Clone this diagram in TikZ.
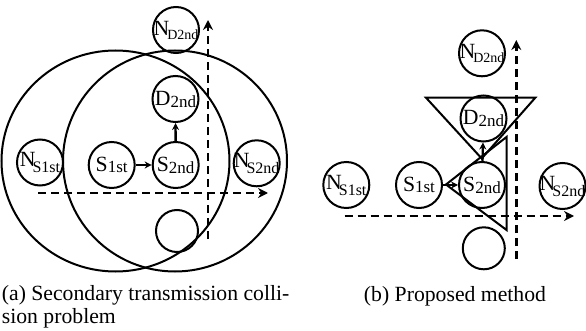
\documentclass[tikz,border=0pt]{standalone}
\usepackage{fontspec}
\setmainfont{Liberation Serif}
\usetikzlibrary{arrows.meta}
\newcommand\lowsub[4][3pt]{#2\kern#3\raisebox{-#1}{\fontsize{17}{17}\selectfont #4}}
\newcommand\lowsubsm[4][3pt]{#2\kern#3\raisebox{-#1}{\fontsize{14}{14}\selectfont #4}}
\newcommand\lowsubmd[4][3pt]{#2\kern#3\raisebox{-#1}{\fontsize{16}{16}\selectfont #4}}
\begin{document}
\begin{tikzpicture}[x=1pt,y=-1pt,font=\fontsize{21.7}{22.6}\selectfont,
  nd/.style={circle,draw,line width=2pt,inner sep=-14pt,minimum size=46pt},
  flowarrow/.style={line width=2.3pt,-{Stealth[length=7pt,width=7pt]}},
  axisarrow/.style={line width=2.5pt,dash pattern=on 8pt off 5pt,-{Stealth[length=10pt,width=10pt]}},
  rangeline/.style={line width=2pt},
  captext/.style={inner sep=0pt}]
\useasboundingbox (0,0) rectangle (586,331);
% ---------- (a) ----------
\draw[rangeline] (115.5,161) ellipse [x radius=114pt,y radius=110.5pt];
\draw[rangeline] (175,161) ellipse [x radius=112pt,y radius=110.5pt];
\node[nd] (aND) at (176,30) {\lowsubsm[4pt]{N}{-2pt}{D2nd}};
\node[nd] (aD) at (175.5,99) {\lowsub[2pt]{D}{0pt}{2nd}};
\node[nd] (aS1) at (111.7,165) {\lowsub[1.5pt]{S}{0pt}{1st}};
\node[nd] (aS2) at (175.7,165) {\lowsub[2pt]{S}{0pt}{2nd}};
\node[nd] (aNS1) at (40,162.5) {\lowsubmd[6pt]{N}{-3pt}{S1st}};
\node[nd] (aNS2) at (256.7,163.3) {\lowsubmd[6pt]{N}{-3pt}{S2nd}};
\node[nd,minimum size=42pt] (aE) at (177,231) {};
\draw[flowarrow] (aS1) -- (aS2);
\draw[flowarrow] (aS2) -- (aD);
\coordinate (aH0) at (38,193);
\coordinate (aH1) at (268,193);
\coordinate (aV0) at (208,239);
\coordinate (aV1) at (208,20);
\draw[axisarrow] (aH0) -- (aH1);
\draw[axisarrow] (aV0) -- (aV1);
\node[captext,anchor=base west] (capA1) at (1.7,300.7) {(a) Secondary transmission colli-};
\node[captext,anchor=base west] (capA2) at (1.7,323.3) {sion problem};
% ---------- (b) ----------
\draw[rangeline,line join=miter] (426,97.7) -- (535.3,97.7) -- (481.7,158.5) -- cycle;
\draw[rangeline,line join=miter] (506.5,137) -- (506.5,230) -- (446,184.5) -- cycle;
\node[nd] (bND) at (482,53.3) {\lowsubsm[4pt]{N}{-2pt}{D2nd}};
\node[nd] (bD) at (483.5,118.5) {\lowsub[2pt]{D}{0pt}{2nd}};
\node[nd] (bS1) at (419,185) {\lowsub[1.5pt]{S}{0pt}{1st}};
\node[nd] (bS2) at (482,185) {\lowsub[2pt]{S}{0pt}{2nd}};
\node[nd] (bNS1) at (346.3,185) {\lowsubmd[6pt]{N}{-3pt}{S1st}};
\node[nd] (bNS2) at (562.5,186) {\lowsubmd[6pt]{N}{-3pt}{S2nd}};
\node[nd,minimum size=42pt] (bE) at (483.8,248.3) {};
\draw[flowarrow] (bS1) -- (bS2);
\draw[flowarrow] (bS2) -- (bD);
\coordinate (bH0) at (344.7,216);
\coordinate (bH1) at (574,216);
\coordinate (bV0) at (516.3,259);
\coordinate (bV1) at (516.3,40);
\draw[axisarrow] (bH0) -- (bH1);
\draw[axisarrow] (bV0) -- (bV1);
\node[captext,anchor=base] (capB) at (455,301) {(b) Proposed method};
\end{tikzpicture}
\end{document}
